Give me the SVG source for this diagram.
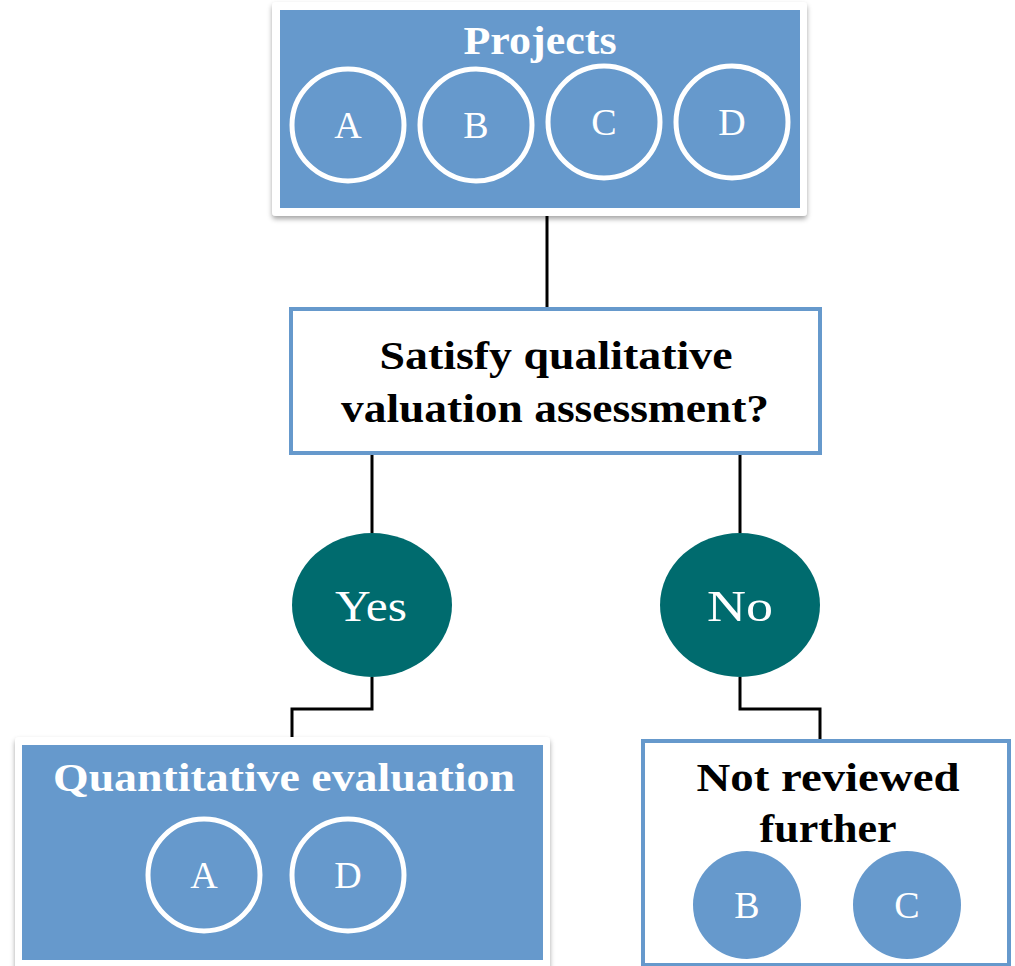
<svg xmlns="http://www.w3.org/2000/svg" width="1015" height="966" viewBox="0 0 1015 966">
<defs>
<filter id="sh" x="-5%" y="-5%" width="110%" height="115%">
<feDropShadow dx="0" dy="3" stdDeviation="2.5" flood-color="#000" flood-opacity="0.35"/>
</filter>
<style>
.frame{fill:#fff;filter:url(#sh);}
.blue{fill:#6699cc;}
.ring{fill:#6699cc;stroke:#fff;stroke-width:5;}
.dot{fill:#6699cc;}
.dec{fill:#fff;stroke:#6699cc;stroke-width:4;}
.yn{fill:#006b6e;}
.t{font-family:"Liberation Serif","DejaVu Serif",serif;text-anchor:middle;}
.hw{fill:#fff;font-weight:bold;font-size:39px;}
.hb{fill:#000;font-weight:bold;font-size:40px;}
.lt{fill:#fff;font-size:38px;}
.yt{fill:#fff;font-size:44px;}
.conn{fill:none;stroke:#000;stroke-width:3;}
</style>
</defs>
<g id="connectors">
<path class="conn" d="M547,216 V308"/>
<path class="conn" d="M372,453 V533"/>
<path class="conn" d="M740,453 V533"/>
<path class="conn" d="M372,677 V709 H292 V737"/>
<path class="conn" d="M740,677 V709 H820 V740"/>
</g>
<g id="projects">
<rect class="frame" x="272" y="2" width="535" height="214" rx="4"/>
<rect class="blue" x="280" y="10" width="520" height="198"/>
<text class="t hw" x="540" y="54" textLength="153" lengthAdjust="spacingAndGlyphs">Projects</text>
<circle class="ring" cx="348" cy="125" r="56"/>
<text class="t lt" x="348" y="138">A</text>
<circle class="ring" cx="476" cy="125" r="56"/>
<text class="t lt" x="476" y="138">B</text>
<circle class="ring" cx="604" cy="122" r="56"/>
<text class="t lt" x="604" y="135">C</text>
<circle class="ring" cx="732" cy="122" r="56"/>
<text class="t lt" x="732" y="135">D</text>
</g>
<g id="decision">
<rect class="dec" x="291" y="309" width="529" height="144"/>
<text class="t hb" x="556" y="369" textLength="353" lengthAdjust="spacingAndGlyphs">Satisfy qualitative</text>
<text class="t hb" x="555" y="422" textLength="428" lengthAdjust="spacingAndGlyphs">valuation assessment?</text>
</g>
<g id="yes">
<ellipse class="yn" cx="372" cy="605" rx="80" ry="72"/>
<text class="t yt" x="371" y="621" textLength="72" lengthAdjust="spacingAndGlyphs">Yes</text>
</g>
<g id="no">
<ellipse class="yn" cx="740" cy="605" rx="80" ry="72"/>
<text class="t yt" x="740" y="621" textLength="66" lengthAdjust="spacingAndGlyphs">No</text>
</g>
<g id="quantitative">
<rect class="frame" x="15" y="737" width="535" height="240" rx="4"/>
<rect class="blue" x="22" y="745" width="521" height="215"/>
<text class="t hw" x="284" y="791" textLength="462" lengthAdjust="spacingAndGlyphs">Quantitative evaluation</text>
<circle class="ring" cx="204" cy="875" r="56"/>
<text class="t lt" x="204" y="888">A</text>
<circle class="ring" cx="348" cy="875" r="56"/>
<text class="t lt" x="348" y="888">D</text>
</g>
<g id="notreviewed">
<rect class="dec" x="643" y="741" width="366" height="224"/>
<text class="t hb" x="828" y="791" textLength="263" lengthAdjust="spacingAndGlyphs">Not reviewed</text>
<text class="t hb" x="828" y="842" textLength="137" lengthAdjust="spacingAndGlyphs">further</text>
<circle class="dot" cx="747" cy="905" r="54"/>
<text class="t lt" x="747" y="918">B</text>
<circle class="dot" cx="907" cy="905" r="54"/>
<text class="t lt" x="907" y="918">C</text>
</g>
</svg>
